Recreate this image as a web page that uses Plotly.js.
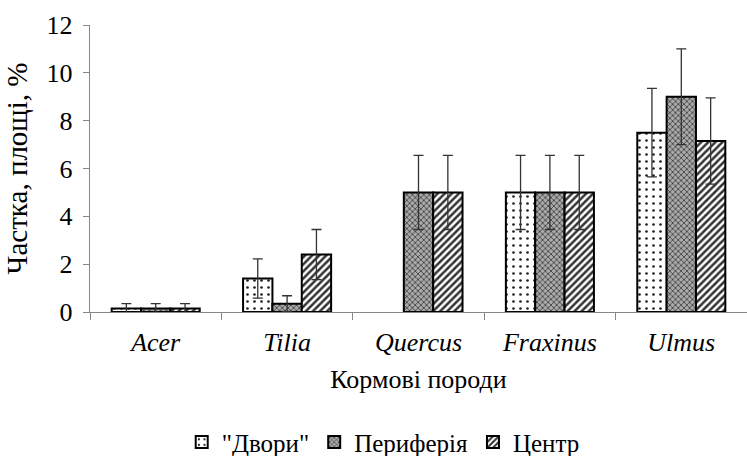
<!DOCTYPE html>
<html>
<head>
<meta charset="utf-8">
<script src="https://cdn.plot.ly/plotly-3.0.1.min.js"></script>
<style>html,body{margin:0;padding:0;background:#fff;}#chart{width:747px;height:456px;}</style>
</head>
<body>
<div id="chart"></div>
<script>
const categories = ["<i>Acer</i>", "<i>Tilia</i>", "<i>Quercus</i>", "<i>Fraxinus</i>", "<i>Ulmus</i>"];
const seriesNames = ["\"Двори\"", "Периферія", "Центр"];
const dvoryValues = [0.15, 1.4, null, 5.0, 7.5];
const dvoryErrors = [0.2, 0.82, null, 1.55, 1.85];
const peryferiiaValues = [0.15, 0.35, 5.0, 5.0, 9.0];
const peryferiiaErrors = [0.2, 0.33, 1.55, 1.55, 2.0];
const tsentrValues = [0.15, 2.4, 5.0, 5.0, 7.15];
const tsentrErrors = [0.2, 1.05, 1.55, 1.55, 1.8];
const yTicks = [0, 2, 4, 6, 8, 10, 12];

const font = "Liberation Serif";
function errs(arr) {
  return {type: "data", array: arr, visible: true, color: "#333", thickness: 1.3, width: 5};
}
const line = {color: "#000", width: 2};
const traces = [
  {type: "bar", name: seriesNames[0], x: categories, y: dvoryValues, error_y: errs(dvoryErrors),
   marker: {color: "#fff", line: line, pattern: {shape: ".", fgcolor: "#222", bgcolor: "#fff", size: 7, solidity: 0.12}}},
  {type: "bar", name: seriesNames[1], x: categories, y: peryferiiaValues, error_y: errs(peryferiiaErrors),
   marker: {color: "#999", line: line, pattern: {shape: "x", fgcolor: "#444", bgcolor: "#aaa", size: 4, solidity: 0.4}}},
  {type: "bar", name: seriesNames[2], x: categories, y: tsentrValues, error_y: errs(tsentrErrors),
   marker: {color: "#888", line: line, pattern: {shape: "/", fgcolor: "#333", bgcolor: "#fff", size: 5, solidity: 0.5}}}
];
const layout = {
  width: 747, height: 456,
  margin: {l: 90, r: 0, t: 25, b: 144},
  paper_bgcolor: "#fff", plot_bgcolor: "#fff",
  barmode: "group", bargap: 0.33, bargroupgap: 0,
  font: {family: font, size: 26, color: "#000"},
  showlegend: true,
  legend: {orientation: "h", xref: "container", x: 0.513, xanchor: "center",
           yref: "container", y: 0.03, yanchor: "middle",
           font: {family: font, size: 25, color: "#000"}, itemwidth: 30, traceorder: "normal"},
  xaxis: {
    showline: true, linecolor: "#888", linewidth: 1.3,
    ticks: "outside", tickson: "boundaries", ticklen: 7, tickcolor: "#888",
    tickfont: {family: font, size: 26}, showgrid: false, zeroline: false,
    ticklabelstandoff: 6,
    title: {text: "Кормові породи", font: {family: font, size: 26}, standoff: 14}
  },
  yaxis: {
    range: [0, 12], tickvals: yTicks, ticktext: yTicks.map(String),
    showline: true, linecolor: "#888", linewidth: 1.3,
    ticks: "outside", ticklen: 6, tickcolor: "#888",
    ticklabelstandoff: 5,
    tickfont: {family: font, size: 26}, showgrid: false, zeroline: false,
    title: {text: "Частка, площі, %", font: {family: font, size: 29}, standoff: 10}
  }
};
Plotly.newPlot("chart", traces, layout, {displayModeBar: false, staticPlot: true});
</script>
</body>
</html>
